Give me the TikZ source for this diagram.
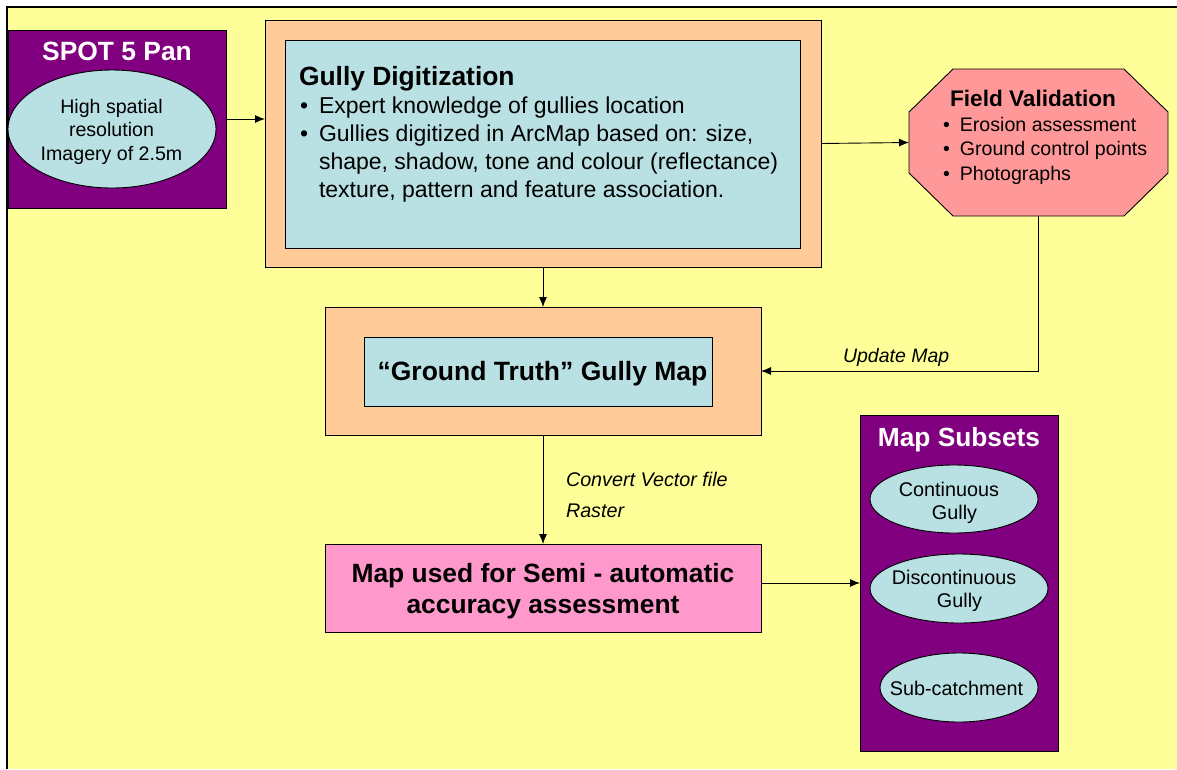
\documentclass[tikz,border=0pt]{standalone}
\usepackage{fontspec}
\setmainfont{Liberation Sans}
\usetikzlibrary{shapes.geometric,arrows.meta}
\definecolor{bgyellow}{HTML}{FFFF99}
\definecolor{deeppurple}{HTML}{800080}
\definecolor{paleblue}{HTML}{B9E0E3}
\definecolor{peach}{HTML}{FFCC99}
\definecolor{salmon}{HTML}{FF9999}
\definecolor{rosepink}{HTML}{FF99CC}
\tikzset{
  box/.style={draw=black, line width=0.9pt, rectangle, inner sep=0pt, outer sep=0pt},
  oval/.style={draw=black, line width=0.9pt, ellipse, fill=paleblue, inner sep=0pt, outer sep=0pt},
  txt/.style={inner sep=0pt, outer sep=0pt},
  flow/.style={line width=0.9pt, -{Latex[length=10pt,width=8pt]}},
}
\newcommand{\fs}[2]{\fontsize{#1}{#2}\selectfont}
\begin{document}
\begin{tikzpicture}[x=1pt,y=-1pt]
\useasboundingbox (0,0) rectangle (1177,769);
% slide background and its frame
\fill[white] (0,0) rectangle (1177,769);
\fill[bgyellow] (7,7) rectangle (1177,769);
\draw[line width=2pt] (7,769) -- (7,7) -- (1177,7);

% SPOT 5 Pan
\node[box, fill=deeppurple, minimum width=218, minimum height=178] (spot) at (117,119) {};
\node[txt, anchor=base, text=white, font=\fs{26.4}{30}\bfseries] (spott) at (117,60) {SPOT 5 Pan};
\node[oval, minimum width=208, minimum height=118] (spote) at (112,129) {};
\node[txt, anchor=base, align=center, font=\fs{19.6}{23.3}] (spotet) at (111.5,160)
  {High spatial\\resolution\\Imagery of 2.5m};

% Gully Digitization
\node[box, fill=peach, minimum width=556, minimum height=247] (gdout) at (543,143.5) {};
\node[box, fill=paleblue, minimum width=515, minimum height=208] (gdin) at (542.5,144) {};
\node[txt, anchor=base west, font=\fs{26.4}{28}\bfseries] (gdt) at (299,85) {Gully Digitization};
\node[txt, anchor=base west, font=\fs{23}{28}] (gdb) at (300,113)
  {\begin{tabular}[t]{@{}l@{\hspace{11pt}}l@{}}
   • & Expert knowledge of gullies location\\
   • & Gullies digitized in ArcMap based on: size,\\
     & shape, shadow, tone and colour (reflectance)\\
     & texture, pattern and feature association.
   \end{tabular}};

% Field Validation (octagon drawn on the corners of its frame node)
\node[txt, minimum width=259, minimum height=147] (fv) at (1038.5,142.5) {};
\draw[line width=0.9pt, fill=salmon]
  ([xshift=44pt]fv.north west) -- ([xshift=-44pt]fv.north east)
  -- ([yshift=-43pt]fv.north east) -- ([yshift=43pt]fv.south east)
  -- ([xshift=-44pt]fv.south east) -- ([xshift=44pt]fv.south west)
  -- ([yshift=43pt]fv.south west) -- ([yshift=-43pt]fv.north west) -- cycle;
\node[txt, anchor=base, font=\fs{22.6}{24}\bfseries] (fvt) at (1033,106.7) {Field Validation};
\node[txt, anchor=base west, font=\fs{19.6}{24.2}] (fvb) at (943,131.7)
  {\begin{tabular}[t]{@{}l@{\hspace{10pt}}l@{}}
   • & Erosion assessment\\
   • & Ground control points\\
   • & Photographs
   \end{tabular}};

% Ground truth map
\node[box, fill=peach, minimum width=436, minimum height=128] (gtout) at (543,371) {};
\node[box, fill=paleblue, minimum width=348, minimum height=69] (gtin) at (538,371.5) {};
\node[txt, anchor=base, font=\fs{26.5}{30}\bfseries] (gtt) at (542.5,380.7) {“Ground Truth” Gully Map};

% Accuracy assessment map
\node[box, fill=rosepink, minimum width=436, minimum height=88] (mapused) at (543,588) {};
\node[txt, anchor=base, font=\fs{26.4}{30.3}\bfseries, align=center] (mapt) at (543,613)
  {Map used for Semi - automatic\\accuracy assessment};

% Map subsets
\node[box, fill=deeppurple, minimum width=198, minimum height=336] (subsets) at (959,583) {};
\node[txt, anchor=base, text=white, font=\fs{26.3}{30}\bfseries] (subt) at (959,446.7) {Map Subsets};
\node[oval, minimum width=168, minimum height=68] (cont) at (954,499) {};
\node[oval, minimum width=178, minimum height=69] (disc) at (959,588.5) {};
\node[oval, minimum width=158, minimum height=69] (subc) at (959,687.5) {};
\node[txt, anchor=base, font=\fs{19.8}{23}] (contA) at (949,496.7) {Continuous};
\node[txt, anchor=base, font=\fs{19.8}{23}] (contB) at (954.5,519) {Gully};
\node[txt, anchor=base, font=\fs{19.8}{23}] (discA) at (954,584) {Discontinuous};
\node[txt, anchor=base, font=\fs{19.8}{23}] (discB) at (959.5,607) {Gully};
\node[txt, anchor=base, font=\fs{19.8}{23}] (subcA) at (956.5,695) {Sub-catchment};

% connectors
\coordinate (mapout) at ([yshift=5pt]mapused.east);
\draw[flow] (spot.east) -- (gdout.west |- spot.east);
\draw[flow] (gdout.east) -- (fv.west);
\draw[flow] (gdout.south) -- (gtout.north);
\draw[flow] (fv.south) |- (gtout.east);
\draw[flow] (gtout.south) -- (mapused.north);
\draw[flow] (mapout) -- (subsets.west |- mapout);

% connector labels
\node[txt, anchor=base west, font=\fs{19.5}{24}\itshape] (upd) at (843,362) {Update Map};
\node[txt, anchor=base west, font=\fs{19.75}{31.7}\itshape, align=left] (conv) at (566,517.7)
  {Convert Vector file\\Raster};
\end{tikzpicture}
\end{document}
